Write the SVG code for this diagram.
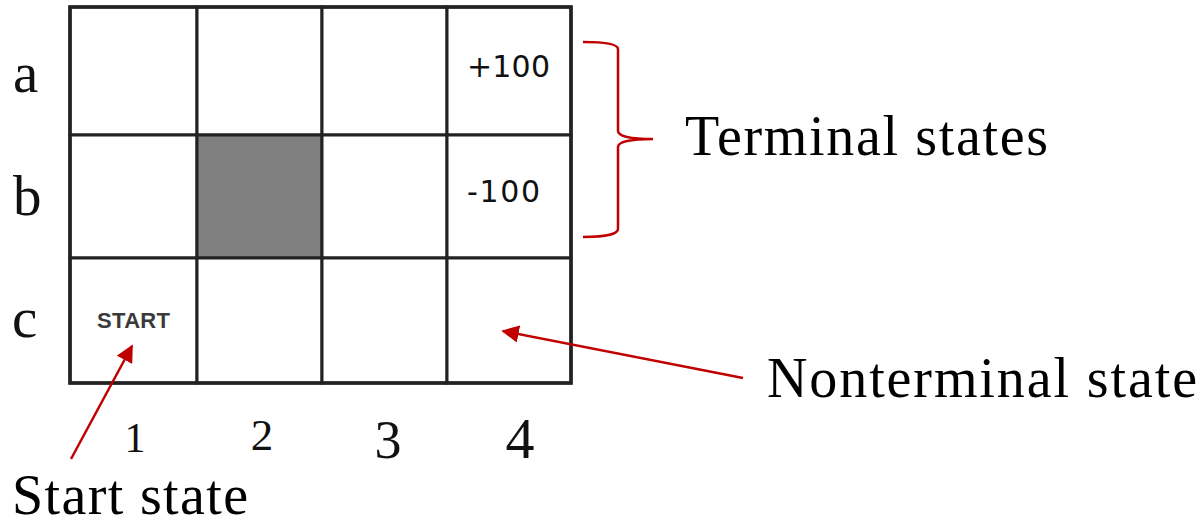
<svg xmlns="http://www.w3.org/2000/svg" width="1200" height="524" viewBox="0 0 1200 524">
  <style>
    .cell { fill: #ffffff; stroke: #222222; stroke-width: 3; }
    .wall { fill: #808080; stroke: #222222; stroke-width: 3; }
    .axis { font-family: "Liberation Serif", "DejaVu Serif", serif; fill: #111111; }
    .reward { font-family: "DejaVu Sans", "Liberation Sans", sans-serif; font-size: 30px; fill: #111111; }
    .tag { font-family: "Liberation Sans", Arial, sans-serif; font-weight: bold; font-size: 22px; fill: #3a3a3a; }
    .note { font-family: "Liberation Serif", "Times New Roman", serif; font-size: 56px; fill: #000000; }
    .red { fill: none; stroke: #c00000; stroke-width: 2.5; }
  </style>
  <defs>
    <marker id="head" viewBox="0 0 10 10" refX="9" refY="5" markerWidth="7" markerHeight="7" markerUnits="strokeWidth" orient="auto">
      <path d="M0,0 L10,5 L0,10 Z" fill="#c00000"/>
    </marker>
  </defs>

  <rect width="1200" height="524" fill="#ffffff"/>

  <!-- grid cells: columns 1-4, rows a-c -->
  <g id="grid">
    <g id="a1"><rect class="cell" x="70" y="7" width="127" height="128"/></g>
    <g id="a2"><rect class="cell" x="197" y="7" width="125" height="128"/></g>
    <g id="a3"><rect class="cell" x="322" y="7" width="125" height="128"/></g>
    <g id="a4"><rect class="cell" x="447" y="7" width="124" height="128"/>
      <text class="reward" x="467" y="77" textLength="83">+100</text></g>
    <g id="b1"><rect class="cell" x="70" y="135" width="127" height="123"/></g>
    <g id="b2"><rect class="wall" x="197" y="135" width="125" height="123"/></g>
    <g id="b3"><rect class="cell" x="322" y="135" width="125" height="123"/></g>
    <g id="b4"><rect class="cell" x="447" y="135" width="124" height="123"/>
      <text class="reward" x="467" y="202" textLength="73">-100</text></g>
    <g id="c1"><rect class="cell" x="70" y="258" width="127" height="125"/>
      <text class="tag" x="97" y="328" textLength="73">START</text></g>
    <g id="c2"><rect class="cell" x="197" y="258" width="125" height="125"/></g>
    <g id="c3"><rect class="cell" x="322" y="258" width="125" height="125"/></g>
    <g id="c4"><rect class="cell" x="447" y="258" width="124" height="125"/></g>
  </g>

  <!-- outer frame drawn a little heavier -->
  <rect x="70" y="7" width="501" height="376" fill="none" stroke="#222222" stroke-width="3.5"/>

  <!-- row and column labels -->
  <g id="row-labels" class="axis" font-size="57">
    <text x="13" y="92">a</text>
    <text x="13" y="215">b</text>
    <text x="12" y="337">c</text>
  </g>
  <g id="col-labels" class="axis">
    <text x="135" y="452" font-size="42" text-anchor="middle">1</text>
    <text x="262" y="450" font-size="45" text-anchor="middle">2</text>
    <text x="388" y="458" font-size="54" text-anchor="middle">3</text>
    <text x="520" y="458" font-size="58" text-anchor="middle">4</text>
  </g>

  <!-- annotations -->
  <g id="terminal-label">
    <text class="note" x="685" y="155" textLength="363">Terminal states</text>
  </g>
  <g id="nonterminal-label">
    <text class="note" x="767" y="397" textLength="430">Nonterminal state</text>
  </g>
  <g id="start-label">
    <text class="note" x="12" y="514" font-size="52" textLength="236">Start state</text>
  </g>

  <g id="connectors">
    <!-- brace grouping the two terminal cells -->
    <path class="red" d="M583,42 C600,42 618,43 618,49 L618,131 C618,136 630,139 653,139 C630,139 618,142 618,147 L618,229 C618,235 600,237 583,237"/>
    <line class="red" x1="71" y1="459" x2="132" y2="346" marker-end="url(#head)"/>
    <line class="red" x1="743" y1="378" x2="503" y2="331" marker-end="url(#head)"/>
  </g>
</svg>
